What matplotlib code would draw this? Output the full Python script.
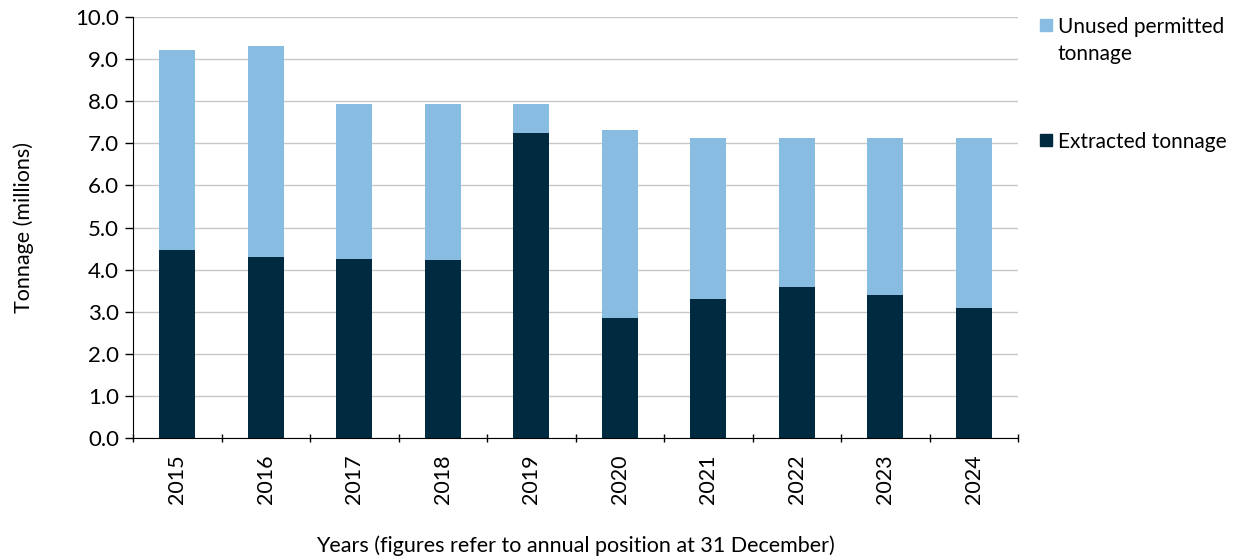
import numpy as np
import matplotlib.pyplot as plt
from matplotlib.patches import Rectangle

plt.rcParams['font.family'] = ['Lato', 'DejaVu Sans']

years = ['2015', '2016', '2017', '2018', '2019', '2020', '2021', '2022', '2023', '2024']
extracted = [4.47, 4.30, 4.25, 4.23, 7.24, 2.85, 3.30, 3.59, 3.40, 3.09]
total = [9.22, 9.31, 7.93, 7.93, 7.93, 7.32, 7.13, 7.13, 7.13, 7.13]
unused = [t - e for t, e in zip(total, extracted)]

dark = '#002A3F'
light = '#88BCE1'

W, H = 1247, 557
fig = plt.figure(figsize=(W / 100, H / 100), dpi=100)
ax = fig.add_axes([0.1067, 0.2136, 0.7097, 0.7559])

x = np.arange(len(years))
ax.bar(x, extracted, width=0.41, color=dark, zorder=3)
ax.bar(x, unused, width=0.41, bottom=extracted, color=light, zorder=3)

ax.set_xlim(-0.5, len(years) - 0.5)
ax.set_ylim(0, 10)
ax.set_yticks(np.arange(0, 10.01, 1.0))
ax.set_yticklabels(['%.1f' % v for v in np.arange(0, 10.01, 1.0)], fontsize=16)
ax.yaxis.grid(True, color='#C8C8C8', linewidth=1, zorder=0)

# x ticks sit between categories, labels at centers
ax.set_xticks(np.arange(-0.5, len(years), 1.0))
ax.set_xticklabels([])
ax.set_xticks(x, minor=True)
ax.set_xticklabels(years, minor=True, rotation=90, fontsize=15.5)
ax.tick_params(axis='x', which='minor', length=0, pad=12)
ax.tick_params(axis='x', which='major', length=6, direction='inout', width=1)
ax.tick_params(axis='y', length=6, direction='out', width=1, pad=4)

for s in ['top', 'right']:
    ax.spines[s].set_visible(False)
ax.spines['left'].set_color('black')
ax.spines['bottom'].set_color('black')

ax.set_ylabel('Tonnage (millions)', fontsize=15.5, labelpad=30)
fig.text(0.4615, 1 - 546 / H, 'Years (figures refer to annual position at 31 December)',
         fontsize=15.5, ha='center', va='center')

# legend drawn by hand so the swatch lines up with the first text line
legend_items = [(light, 'Unused permitted\ntonnage', 25), (dark, 'Extracted tonnage', 140)]
for col, lab, ypix in legend_items:
    fig.patches.append(Rectangle((1040 / W, 1 - (ypix + 6) / H), 12 / W, 12 / H,
                                 transform=fig.transFigure, color=col))
    fig.text(1058 / W, 1 - (ypix - 8) / H, lab, fontsize=15, ha='left', va='top',
             linespacing=1.45)

fig.savefig('out.png', dpi=100)
